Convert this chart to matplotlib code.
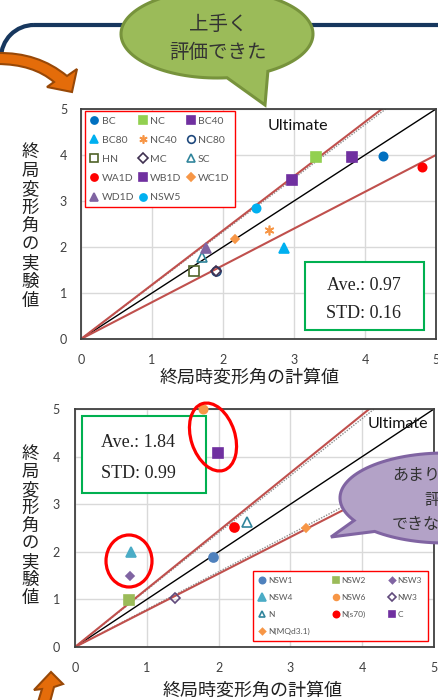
import numpy as np
import matplotlib
matplotlib.use('Agg')
import matplotlib.pyplot as plt
from matplotlib.patches import Ellipse, Rectangle, Arc, PathPatch, Polygon
from matplotlib.path import Path

plt.rcParams['font.family'] = ['Noto Sans CJK JP', 'DejaVu Sans']

W, H = 438, 700

# --- upper chart data (calculated vs experimental ultimate drift) ---
labels1 = ['BC', 'NC', 'BC40', 'BC80', 'NC40', 'NC80', 'HN', 'MC', 'SC',
           'WA1D', 'WB1D', 'WC1D', 'WD1D', 'NSW5']
calc1 = [4.25, 3.31, 3.82, 2.86, 2.65, 1.90, 1.59, 1.90, 1.71, 4.80, 2.97, 2.17, 1.76, 2.46]
exp1 = [3.98, 3.96, 3.96, 1.98, 2.37, 1.48, 1.48, 1.48, 1.78, 3.74, 3.46, 2.17, 1.98, 2.85]
ave1, std1 = 0.97, 0.16
upper1, lower1 = 1.18, 0.80
dotted1 = [1.165]

# --- lower chart data ---
labels2 = ['NSW1', 'NSW2', 'NSW3', 'NSW4', 'NSW6', 'NW3', 'N', 'N(s70)', 'C', 'N(MQd3.1)']
calc2 = [1.92, 0.75, 0.76, 0.78, 1.78, 1.39, 2.40, 2.22, 1.99, 3.22]
exp2 = [1.89, 0.99, 1.49, 2.00, 5.00, 1.03, 2.63, 2.52, 4.08, 2.50]
ave2, std2 = 1.84, 0.99
upper2, lower2 = 1.22, 0.77
dotted2 = [1.20, 0.79]

ticks = [0, 1, 2, 3, 4, 5]
xlabel = '終局時変形角の計算値'
ylabel = '終局変形角の実験値'

# marker, face, edge, size
style1 = {
    'BC': ('o', '#0070C0', '#0070C0', 6),
    'NC': ('s', '#92D050', '#92D050', 6.5),
    'BC40': ('s', '#7030A0', '#7030A0', 6.5),
    'BC80': ('^', '#00B0F0', '#00B0F0', 7),
    'NC40': ((6, 2, 0), '#F79646', '#F79646', 7),
    'NC80': ('o', 'none', '#1F497D', 6.5),
    'HN': ('s', 'none', '#4F6228', 6.5),
    'MC': ('D', 'none', '#403151', 5.5),
    'SC': ('^', 'none', '#31859C', 7),
    'WA1D': ('o', '#FF0000', '#FF0000', 6),
    'WB1D': ('s', '#7030A0', '#7030A0', 6.5),
    'WC1D': ('D', '#F79646', '#F79646', 4.5),
    'WD1D': ('^', '#8064A2', '#8064A2', 7),
    'NSW5': ('o', '#00B0F0', '#00B0F0', 6),
}
style2 = {
    'NSW1': ('o', '#4F81BD', '#4F81BD', 6.5),
    'NSW2': ('s', '#9BBB59', '#9BBB59', 6.5),
    'NSW3': ('D', '#8064A2', '#8064A2', 4.5),
    'NSW4': ('^', '#4BACC6', '#4BACC6', 7.5),
    'NSW6': ('o', '#F79646', '#F79646', 6),
    'NW3': ('D', 'none', '#604A7B', 5.5),
    'N': ('^', 'none', '#31859C', 7),
    'N(s70)': ('o', '#FF0000', '#FF0000', 6.5),
    'C': ('s', '#7030A0', '#7030A0', 6.5),
    'N(MQd3.1)': ('D', '#F79646', '#F79646', 4.5),
}

fig = plt.figure(figsize=(W / 100, H / 100), dpi=100)


def draw_panel(px_box, labels, calc, exp, styles, upper, lower, dotted):
    l, t, r, b = px_box
    ax = fig.add_axes([l / W, 1 - b / H, (r - l) / W, (b - t) / H])
    ax.set_xlim(0, 5)
    ax.set_ylim(0, 5)
    ax.set_xticks(ticks)
    ax.set_yticks(ticks)
    ax.grid(color='#D9D9D9', lw=1)
    ax.set_axisbelow(True)
    for s in ax.spines.values():
        s.set_color('#404040')
        s.set_linewidth(1.3)
    ax.tick_params(length=0, labelsize=9, colors='#404040')
    for lab in ax.get_xticklabels() + ax.get_yticklabels():
        lab.set_family('Lato')
    xs = np.array([0, 5])
    ax.plot(xs, xs, color='black', lw=1)
    for s in dotted:
        ax.plot(xs, s * xs, color='#8C8C8C', ls=(0, (1, 1)), lw=1)
    for s in (upper, lower):
        ax.plot(xs, s * xs, color='#C0504D', lw=1.5)
    handles = []
    for lab, x, y in zip(labels, calc, exp):
        m, fc, ec, ms = styles[lab]
        h, = ax.plot(x, y, ls='none', marker=m, mfc=fc, mec=ec, ms=ms, mew=1.2,
                     clip_on=False, label=lab, zorder=5)
        handles.append(h)
    return ax, handles


def add_legend(ax, handles, anchor, size, **kw):
    n = len(handles)
    # matplotlib fills columns first, so reorder to read row by row
    order = [i for c in range(3) for i in range(c, n, 3)]
    leg = ax.legend([handles[i] for i in order], [handles[i].get_label() for i in order],
                    ncol=3, loc='upper left', bbox_to_anchor=anchor, borderaxespad=0,
                    fancybox=False, edgecolor='#FF0000', framealpha=1, numpoints=1,
                    prop={'family': 'Lato', 'size': size}, labelcolor='#595959', **kw)
    leg.get_frame().set_linewidth(1)
    return leg


box1 = (81, 109, 436, 339)
box2 = (75, 409, 434, 647)
ax1, h1 = draw_panel(box1, labels1, calc1, exp1, style1, upper1, lower1, dotted1)
ax2, h2 = draw_panel(box2, labels2, calc2, exp2, style2, upper2, lower2, dotted2)
ax1.tick_params(axis='x', pad=11)
ax1.tick_params(axis='y', pad=10)
ax2.tick_params(axis='x', pad=11)
ax2.tick_params(axis='y', pad=11)

add_legend(ax1, h1, ((85 - 81) / 355, (339 - 111) / 230), 7.5,
           handlelength=0.8, handletextpad=0.3, columnspacing=0.45,
           labelspacing=0.95, borderpad=0.5, markerscale=0.85)
add_legend(ax2, h2, ((253 - 75) / 359, (647 - 571) / 238), 6,
           handlelength=0.8, handletextpad=0.3, columnspacing=2.7,
           labelspacing=1.2, borderpad=0.7, markerscale=0.7)

# overlay in pixel coordinates for annotations
ov = fig.add_axes([0, 0, 1, 1], zorder=10)
ov.set_xlim(0, W)
ov.set_ylim(H, 0)
ov.axis('off')
ov.patch.set_alpha(0)

# navy frame line
ov.plot([34, W + 5], [25, 25], color='#17375E', lw=3, solid_capstyle='butt')
ov.add_patch(Arc((34, 58), 66, 66, theta1=180, theta2=270, color='#17375E', lw=3))


def bubble(cx, cy, a, b, t1, t2, tip, fc, ec):
    t = np.radians(np.linspace(t2, t1 + 360, 120))
    pts = np.column_stack([cx + a * np.cos(t), cy + b * np.sin(t)])
    pts = np.vstack([pts, tip])
    ov.add_patch(Polygon(pts, closed=True, fc=fc, ec=ec, lw=2.2, zorder=3))


bubble(217, 34, 96, 44, 58, 84, (265, 105), '#9BBB59', '#77933C')
ov.text(218, 25, '上手く', ha='center', va='center', fontsize=14, color='#333333', zorder=4)
ov.text(218, 52, '評価できた', ha='center', va='center', fontsize=14, color='#333333', zorder=4)

bubble(445, 498, 105, 45, 132, 150, (331, 537), '#B3A2C7', '#8064A2')
for txt, yy in zip(['あまり上手く', '評価', 'できなかった'], [475, 500, 525]):
    ov.text(440, yy, txt, ha='center', va='center', fontsize=11.5, color='#333333', zorder=4)

# orange arrows
verts = [(-3, 53), (38, 52), (67, 76), (77, 69), (72, 92), (47, 87), (54, 82),
         (33, 64), (-3, 64), (-3, 53)]
codes = [Path.MOVETO, Path.CURVE3, Path.CURVE3, Path.LINETO, Path.LINETO, Path.LINETO,
         Path.LINETO, Path.CURVE3, Path.CURVE3, Path.CLOSEPOLY]
ov.add_patch(PathPatch(Path(verts, codes), fc='#E46C0A', ec='#984807', lw=1.5, zorder=3))
ov.add_patch(Polygon([(38, 702), (42, 689), (34, 690), (51, 672), (63, 684), (54, 687), (50, 702)],
                     closed=True, fc='#E46C0A', ec='#984807', lw=1.5, zorder=3))

# red ellipses
ov.add_patch(Ellipse((213, 437), 44, 70, angle=-18, fill=False, ec='#FF0000', lw=2.3, zorder=3))
ov.add_patch(Ellipse((129, 561), 46, 52, fill=False, ec='#FF0000', lw=2.3, zorder=3))

# stats boxes
for (x0, y0, x1, y1), tx, ave, std in [((305, 262, 424, 330), 364, ave1, std1),
                                       ((82, 416, 206, 493), 138, ave2, std2)]:
    ov.add_patch(Rectangle((x0, y0), x1 - x0, y1 - y0, fc='white', ec='#00B050', lw=1.5, zorder=2))
    hgt = y1 - y0
    ov.text(tx, y0 + hgt * 0.34, f'Ave.: {ave:.2f}', ha='center', va='center',
            family='Liberation Serif', fontsize=13, color='#222222', zorder=3)
    ov.text(tx, y0 + hgt * 0.75, f'STD: {std:.2f}', ha='center', va='center',
            family='Liberation Serif', fontsize=13, color='#222222', zorder=3)

# Ultimate labels
ov.text(298, 126, 'Ultimate', ha='center', va='center', family='Lato', fontsize=11.5, color='#111111')
ov.text(428, 424, 'Ultimate', ha='right', va='center', family='Lato', fontsize=11.5, color='#111111')

# axis labels
ov.text(250, 378, xlabel, ha='center', va='center', fontsize=13, color='#222222')
ov.text(253, 691, xlabel, ha='center', va='center', fontsize=13, color='#222222')
for i, ch in enumerate(ylabel):
    ov.text(30, 152 + i * 18.6, ch, ha='center', va='center', fontsize=12.5, color='#222222')
    ov.text(30, 454 + i * 18.0, ch, ha='center', va='center', fontsize=12.5, color='#222222')

fig.savefig('out.png', dpi=100)
